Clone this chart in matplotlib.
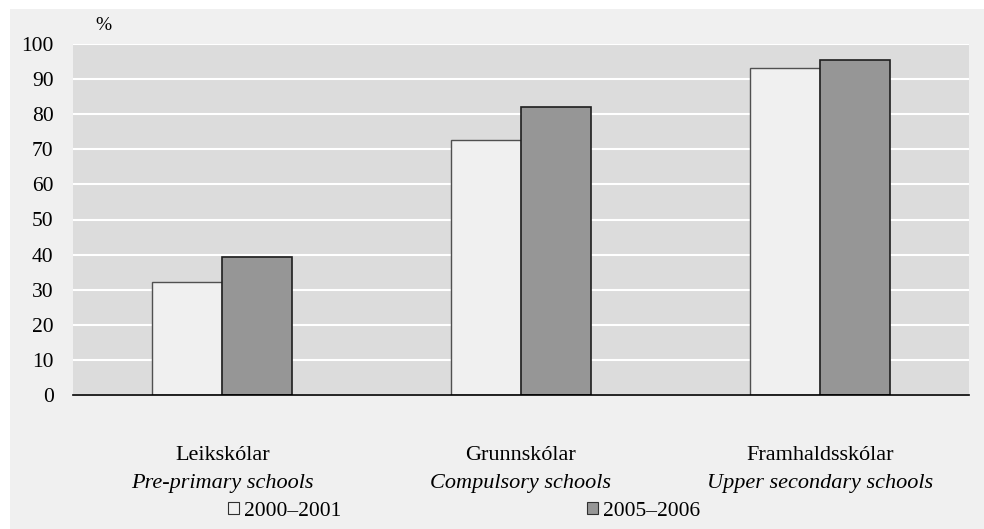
import matplotlib
matplotlib.use("Agg")
import matplotlib.pyplot as plt
from matplotlib.patches import Rectangle, Patch
from matplotlib.transforms import blended_transform_factory
import numpy as np

categories_is = ["Leikskólar", "Grunnskólar", "Framhaldsskólar"]
categories_en = ["Pre-primary schools", "Compulsory schools", "Upper secondary schools"]
series_names = ["2000–2001", "2005–2006"]
values_2000 = [32.1, 72.6, 93.1]
values_2005 = [39.2, 82.0, 95.4]
yticks = [0, 10, 20, 30, 40, 50, 60, 70, 80, 90, 100]

plt.rcParams['font.family'] = ['Liberation Serif', 'DejaVu Serif']

W, H = 984, 529
fig = plt.figure(figsize=(W / 100, H / 100), dpi=100, facecolor='white')
fig.patches.append(Rectangle((10 / W, 0), 1, (H - 9) / H, transform=fig.transFigure,
                             facecolor='#f0f0f0', edgecolor='none', zorder=-10))

left, right, top, bottom = 73, 969, 44, 395
ax = fig.add_axes([left / W, (H - bottom) / H, (right - left) / W, (bottom - top) / H])
ax.set_facecolor('#dcdcdc')

x = np.arange(len(categories_is))
w = 0.234
ax.bar(x - w / 2, values_2000, width=w, color='#f0f0f0', edgecolor='#505050', linewidth=1.0, zorder=3)
ax.bar(x + w / 2, values_2005, width=w, color='#969696', edgecolor='#1e1e1e', linewidth=1.2, zorder=3)

ax.set_xlim(-0.5, 2.5)
ax.set_ylim(0, 100)
ax.set_yticks(yticks)
ax.set_yticklabels([str(v) for v in yticks], fontsize=15.5)
ax.tick_params(axis='y', length=0, pad=14)
ax.set_xticks([])
ax.yaxis.grid(True, color='white', linewidth=1.5, zorder=0)
ax.set_axisbelow(True)
for s in ['left', 'right', 'top']:
    ax.spines[s].set_visible(False)
ax.spines['bottom'].set_color('black')
ax.spines['bottom'].set_linewidth(1.2)
ax.spines['bottom'].set_zorder(4)

trans = blended_transform_factory(ax.transData, ax.transAxes)
for i in range(len(categories_is)):
    ax.text(x[i], -0.171, categories_is[i], transform=trans, ha='center', va='center', fontsize=16)
    ax.text(x[i], -0.253, categories_en[i], transform=trans, ha='center', va='center',
            fontsize=16, style='italic')

fig.text(103 / W, 1 - 26 / H, '%', ha='center', va='center', fontsize=14)

handles = [Patch(facecolor='#f0f0f0', edgecolor='#303030', linewidth=0.8),
           Patch(facecolor='#969696', edgecolor='#303030', linewidth=0.8)]
fig.legend(handles, series_names, loc='center', bbox_to_anchor=(464 / W, 1 - 511 / H),
           ncol=2, frameon=False, fontsize=15.5, handlelength=0.5, handleheight=0.5,
           handletextpad=0.25, columnspacing=11.4)

fig.savefig('out.png', dpi=100, facecolor='white')
